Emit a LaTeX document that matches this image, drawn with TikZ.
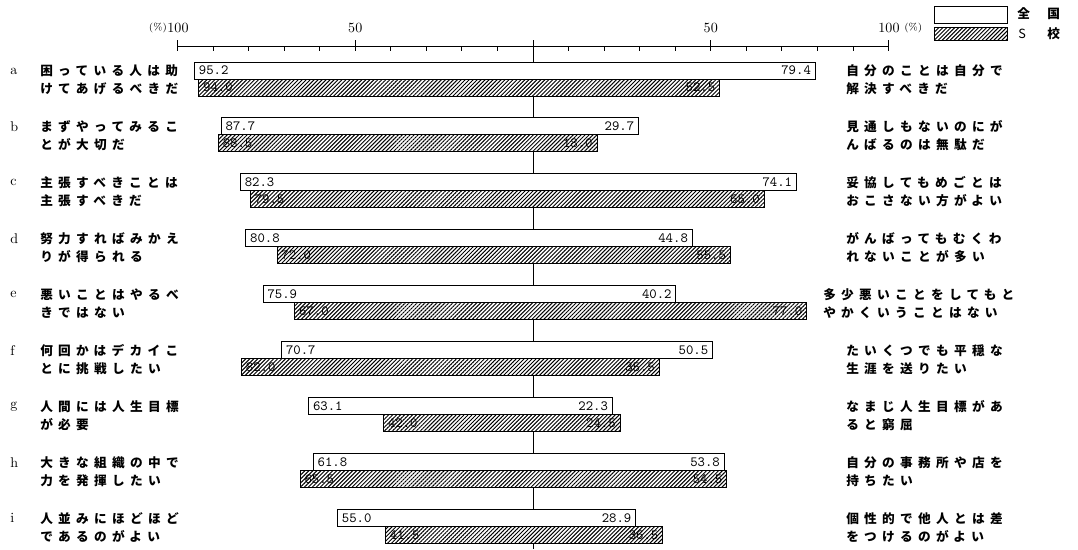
\documentclass[tikz,border=0pt]{standalone}
\usepackage{fontspec}
\usepackage{tikz}
\usetikzlibrary{patterns.meta}
\newfontfamily\jpfont[LetterSpace=42]{Noto Sans CJK JP}
\newfontfamily\jpplain{Noto Sans CJK JP}
\tikzstyle{whitebar} =
        [
                draw,
                fill = white,
                line width = 0.6pt
        ]
\tikzstyle{hatchbar} =
        [
                draw,
                fill = white,
                line width = 0.6pt,
                postaction = {pattern = {Lines[angle = 45, distance = 2pt, line width = 0.7pt]}}
        ]
\tikzstyle{value} =
        [
                font = \ttfamily\fontsize{10}{10}\selectfont,
                inner sep = 1.5pt
        ]
\tikzstyle{item} =
        [
                font = \jpfont\bfseries\fontsize{9}{12.8}\selectfont,
                align = left,
                anchor = west,
                inner sep = 0pt
        ]
\tikzstyle{tickno} =
        [
                font = \fontsize{10}{10}\selectfont,
                inner sep = 0pt
        ]

\begin{document}
\begin{tikzpicture}[x = 0.25mm, y = -0.25mm]
    \useasboundingbox (0,0) rectangle (1078,549);
    % axis
    \draw [line width = 0.6pt] (533,40) -- (533,549);
    \draw [line width = 0.6pt] (178,46) -- (889,46);
    \foreach \i in {-10,...,10}
        \draw [line width = 0.6pt] (533+35.55*\i,46) -- ++(0,5);
    \foreach \i in {-10,-5,5,10}
        \draw [line width = 0.6pt] (533+35.55*\i,40) -- ++(0,11);
    \node [tickno] (l100) at (178,28) {100};
    \node [tickno, anchor = east, font = \fontsize{7}{7}\selectfont] (lpct) at (l100.west) {(\%)};
    \node [tickno] (l50) at (355.25,28) {50};
    \node [tickno] (r50) at (710.75,28) {50};
    \node [tickno] (r100) at (889,28) {100};
    \node [tickno, anchor = west, font = \fontsize{7}{7}\selectfont] (rpct) at ([xshift = 3pt] r100.east) {(\%)};
    % legend
    \draw [whitebar] (934,6) rectangle (1007,23);
    \draw [hatchbar] (934,27) rectangle (1007,40);
    \node [item] (zen) at (1017,14) {全};
    \node [item] (koku) at (1047,14) {国};
    \node [tickno, anchor = west, font = \jpplain\fontsize{9}{9}\selectfont] (s) at (1018,34) {S};
    \node [item] (kou) at (1047,34) {校};
    % bars
    \foreach \k/\wl/\wr/\sl/\sr in
        {0/95.2/79.4/94.0/52.5, 1/87.7/29.7/88.5/18.0, 2/82.3/74.1/79.5/65.0,
         3/80.8/44.8/72.0/55.5, 4/75.9/40.2/67.0/77.0, 5/70.7/50.5/82.0/35.5,
         6/63.1/22.3/42.0/24.5, 7/61.8/53.8/65.5/54.5, 8/55.0/28.9/41.5/36.5}
    {
        \pgfmathsetmacro\yt{62+55.9*\k}
        \draw [whitebar] (533-\wl*3.555,\yt) rectangle (533+\wr*3.555,\yt+17);
        \draw [hatchbar] (533-\sl*3.555,\yt+17) rectangle (533+\sr*3.555,\yt+34);
        \node [value, anchor = west] (wl\k) at (533-\wl*3.555+2,\yt+8.5) {\wl};
        \node [value, anchor = east] (wr\k) at (533+\wr*3.555-2,\yt+8.5) {\wr};
        \node [value, anchor = west] (sl\k) at (533-\sl*3.555+2,\yt+25.5) {\sl};
        \node [value, anchor = east] (sr\k) at (533+\sr*3.555-2,\yt+25.5) {\sr};
    }
    % labels
    \foreach \k/\tag/\lt/\rx/\rt in
        {0/a/困っている人は助\\けてあげるべきだ/846/自分のことは自分で\\解決すべきだ,
         1/b/まずやってみるこ\\とが大切だ/846/見通しもないのにが\\んばるのは無駄だ,
         2/c/主張すべきことは\\主張すべきだ/846/妥協してもめごとは\\おこさない方がよい,
         3/d/努力すればみかえ\\りが得られる/846/がんばってもむくわ\\れないことが多い,
         4/e/悪いことはやるべ\\きではない/823/多少悪いことをしてもと\\やかくいうことはない,
         5/f/何回かはデカイこ\\とに挑戦したい/846/たいくつでも平穏な\\生涯を送りたい,
         6/g/人間には人生目標\\が必要/846/なまじ人生目標があ\\ると窮屈,
         7/h/大きな組織の中で\\力を発揮したい/846/自分の事務所や店を\\持ちたい,
         8/i/人並みにほどほど\\であるのがよい/846/個性的で他人とは差\\をつけるのがよい}
    {
        \node [tickno, anchor = west] (tag\k) at (10,71+55.9*\k) {\tag};
        \node [item] (left\k) at (40,80+55.9*\k) {\lt};
        \node [item] (right\k) at (\rx,80+55.9*\k) {\rt};
    }
\end{tikzpicture}
\end{document}
